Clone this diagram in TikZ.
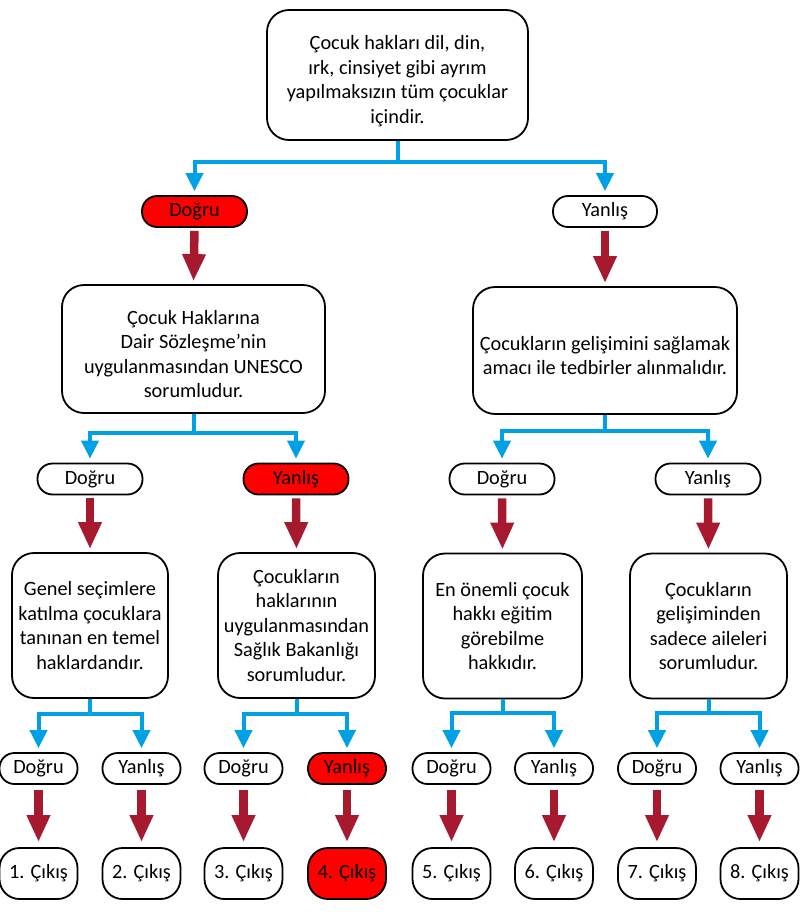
\documentclass[tikz,border=0pt]{standalone}
\usepackage{fontspec}
\setmainfont{Carlito}
\usetikzlibrary{arrows.meta}
\definecolor{cblue}{HTML}{00A0E4}
\definecolor{cdark}{HTML}{A6192E}
\definecolor{cred}{HTML}{FF0000}
\tikzset{
  txt/.style={font=\fontsize{20.3}{24.5}\selectfont, align=center, inner sep=0pt},
  qbox/.style={txt, draw=black, line width=1.8pt, rounded corners=22pt, fill=white},
  pill/.style={txt, draw=black, line width=1.8pt, rounded corners=15pt, minimum height=31pt, fill=white},
  exitbox/.style={txt, draw=black, line width=1.8pt, rounded corners=20pt, minimum width=78pt, minimum height=51pt, fill=white},
  hot/.style={fill=cred},
  bl/.style={draw=cblue, line width=4pt, -{Triangle[width=17pt,length=18pt]}, shorten >=4pt},
  ra/.style={draw=cdark, line width=8.5pt, -{Triangle[width=22pt,length=27pt]}, shorten <=3pt, shorten >=3pt},
}
\begin{document}
\begin{tikzpicture}[x=1pt,y=-1pt]
\useasboundingbox (0,0) rectangle (800,921);
% level 0
\node[qbox, minimum width=261pt, minimum height=130pt,
  label={[txt, yshift=-6pt, name=topt]center:{Çocuk hakları dil, din,\\ırk, cinsiyet gibi ayrım\\yapılmaksızın tüm çocuklar\\içindir.}}] (top) at (397.5,75) {};
\node[pill, hot, minimum width=105pt] (d1) at (194.5,211.5) {Doğru};
\node[pill, minimum width=104pt] (y1) at (605,211.5) {Yanlış};
% level 1
\node[qbox, minimum width=263pt, minimum height=128pt,
  label={[txt, yshift=-5pt, name=b2t]center:{Çocuk Haklarına\\Dair Sözleşme’nin\\uygulanmasından UNESCO\\sorumludur.}}] (b2) at (193.5,349) {};
\node[qbox, minimum width=264pt, minimum height=127pt,
  label={[txt, yshift=-5pt, name=b3t]center:{Çocukların gelişimini sağlamak\\amacı ile tedbirler alınmalıdır.}}] (b3) at (605,350.5) {};
\node[pill, minimum width=105pt] (d2) at (90,479) {Doğru};
\node[pill, hot, minimum width=105pt] (y2) at (296,479) {Yanlış};
\node[pill, minimum width=105pt] (d3) at (502,479) {Doğru};
\node[pill, minimum width=105pt] (y3) at (708,479) {Yanlış};
% level 2
\node[qbox, minimum width=156pt, minimum height=145pt] (g1) at (90,625.5)
  {Genel seçimlere\\katılma çocuklara\\tanınan en temel\\haklardandır.};
\node[qbox, minimum width=157pt, minimum height=145pt] (g2) at (296.5,625.5)
  {Çocukların\\haklarının\\uygulanmasından\\Sağlık Bakanlığı\\sorumludur.};
\node[qbox, minimum width=159pt, minimum height=145pt] (g3) at (502.5,626)
  {En önemli çocuk\\hakkı eğitim\\görebilme\\hakkıdır.};
\node[qbox, minimum width=157pt, minimum height=145pt] (g4) at (708.5,626)
  {Çocukların\\gelişiminden\\sadece aileleri\\sorumludur.};
% level 3 pills
\node[pill, minimum width=78pt] (p1) at (38.5,768.5) {Doğru};
\node[pill, minimum width=78pt] (p2) at (141.5,768.5) {Yanlış};
\node[pill, minimum width=78pt] (p3) at (243.5,768.5) {Doğru};
\node[pill, hot, minimum width=78pt] (p4) at (347,768.5) {Yanlış};
\node[pill, minimum width=78pt] (p5) at (451.5,768.5) {Doğru};
\node[pill, minimum width=78pt] (p6) at (554,768.5) {Yanlış};
\node[pill, minimum width=78pt] (p7) at (657,768.5) {Doğru};
\node[pill, minimum width=78pt] (p8) at (759.5,768.5) {Yanlış};
% exits
\node[exitbox] (e1) at (38.5,873.5) {1. Çıkış};
\node[exitbox] (e2) at (141.5,873.5) {2. Çıkış};
\node[exitbox] (e3) at (243.5,873.5) {3. Çıkış};
\node[exitbox, hot] (e4) at (347,873.5) {4. Çıkış};
\node[exitbox] (e5) at (451.5,873.5) {5. Çıkış};
\node[exitbox] (e6) at (554,873.5) {6. Çıkış};
\node[exitbox] (e7) at (657,873.5) {7. Çıkış};
\node[exitbox] (e8) at (759.5,873.5) {8. Çıkış};
% blue connectors
\draw[bl] (top.south) -- ++(0,21) -| (d1.north);
\draw[bl] (top.south) -- ++(0,21) -| (y1.north);
\draw[bl] (b2.south) -- ++(0,19) -| (d2.north);
\draw[bl] (b2.south) -- ++(0,19) -| (y2.north);
\draw[bl] (b3.south) -- ++(0,16) -| (d3.north);
\draw[bl] (b3.south) -- ++(0,16) -| (y3.north);
\draw[bl] (g1.south) -- ++(0,15) -| (p1.north);
\draw[bl] (g1.south) -- ++(0,15) -| (p2.north);
\draw[bl] (g2.south) -- ++(0,15) -| (p3.north);
\draw[bl] (g2.south) -- ++(0,15) -| (p4.north);
\draw[bl] (g3.south) -- ++(0,14) -| (p5.north);
\draw[bl] (g3.south) -- ++(0,14) -| (p6.north);
\draw[bl] (g4.south) -- ++(0,14) -| (p7.north);
\draw[bl] (g4.south) -- ++(0,14) -| (p8.north);
% dark red arrows
\draw[ra] (d1.south) -- (b2.north);
\draw[ra] (y1.south) -- (b3.north);
\draw[ra] (d2.south) -- (g1.north);
\draw[ra] (y2.south) -- (g2.north);
\draw[ra] (d3.south) -- (g3.north);
\draw[ra] (y3.south) -- (g4.north);
\foreach \i in {1,...,8} {
  \draw[ra, shorten <=5pt, shorten >=5pt] (p\i.south) -- (e\i.north);
}
\end{tikzpicture}
\end{document}
